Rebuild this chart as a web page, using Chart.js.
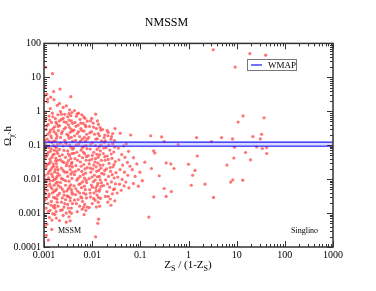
<!DOCTYPE html>
<html>
<head>
<meta charset="utf-8">
<script src="https://cdn.jsdelivr.net/npm/chart.js@4.4.0/dist/chart.umd.min.js"></script>
<style>
html, body { margin: 0; padding: 0; background: #fff; }
</style>
</head>
<body>
<canvas id="chart" width="376" height="291"></canvas>
<script>
// Axis ticks
const xTicks = [0.001, 0.01, 0.1, 1, 10, 100, 1000];
const xTickLabels = ['0.001', '0.01', '0.1', '1', '10', '100', '1000'];
const yTicks = [0.0001, 0.001, 0.01, 0.1, 1, 10, 100];
const yTickLabels = ['0.0001', '0.001', '0.01', '0.1', '1', '10', '100'];

// WMAP band
const wmapX = [0.001, 1000];
const wmapHigh = [0.123, 0.123];
const wmapLow = [0.094, 0.094];

// Scan points [Z_S/(1-Z_S), Omega h^2]
const points = [
    [0.00108,20],[0.0015,12.8],[0.00104,5],[0.00215,4.5],[0.00159,3.8],[0.00114,3.2],[0.00138,2.6],[0.00119,2.3],
    [0.00102,2.8],[0.00118,1.9],[0.00135,1.2],[0.00161,2.2],[0.00189,1.5],[0.00108,0.95],[0.00127,0.72],[0.00149,0.88],[0.00172,0.61],[0.00195,0.79],
    [0.00104,0.52],[0.00122,0.41],[0.00143,0.47],[0.00166,0.35],[0.00184,0.43],[0.00111,0.29],[0.00131,0.24],[0.00155,0.31],[0.00178,0.22],[0.00198,0.27],
    [0.00101,0.18],[0.00116,0.15],[0.00139,0.19],[0.00158,0.13],[0.00182,0.16],[0.00106,0.11],[0.00125,0.085],[0.00146,0.12],[0.00169,0.092],[0.00191,0.105],
    [0.00103,0.072],[0.00121,0.061],[0.00141,0.078],[0.00163,0.055],[0.00186,0.066],[0.00113,0.047],[0.00133,0.039],[0.00152,0.051],[0.00176,0.042],[0.00194,0.036],
    [0.00101,0.031],[0.00119,0.027],[0.00137,0.033],[0.00159,0.024],[0.00181,0.029],[0.00109,0.021],[0.00128,0.017],[0.00147,0.022],[0.00171,0.019],[0.00193,0.015],
    [0.00105,0.013],[0.00124,0.011],[0.00144,0.014],[0.00165,0.0098],[0.00187,0.012],[0.00114,0.0085],[0.00132,0.0071],[0.00154,0.0091],[0.00177,0.0076],[0.00197,0.0064],
    [0.00102,0.0056],[0.00117,0.0047],[0.00138,0.0059],[0.00161,0.0043],[0.00183,0.0051],[0.00107,0.0036],[0.00126,0.0031],[0.00149,0.0039],[0.00172,0.0028],[0.00192,0.0033],
    [0.00103,0.0024],[0.00121,0.0019],[0.00142,0.0022],[0.00167,0.0017],[0.00188,0.0021],[0.00111,0.0014],[0.00134,0.0012],[0.00157,0.0015],[0.00179,0.0011],
    [0.00101,0.00085],[0.00129,0.00074],[0.00146,0.00062],[0.00168,0.0009],[0.00115,0.00047],[0.00145,0.00033],[0.00123,0.00016],[0.00112,0.00022],[0.00104,0.0004],
    [0.00109,0.62],[0.00131,0.55],[0.00153,0.69],[0.00177,0.48],[0.00196,0.36],[0.00114,0.37],[0.00137,0.28],[0.00162,0.25],[0.00187,0.19],[0.00119,0.21],
    [0.00143,0.165],[0.00171,0.135],[0.00104,0.14],[0.00128,0.13],[0.00157,0.098],[0.00181,0.083],[0.00111,0.093],[0.00135,0.066],[0.00163,0.071],[0.00192,0.057],
    [0.00117,0.053],[0.00146,0.044],[0.00174,0.035],[0.00103,0.041],[0.00129,0.029],[0.00155,0.028],[0.00185,0.023],[0.00112,0.025],[0.00139,0.019],[0.00166,0.016],
    [0.00196,0.019],[0.00121,0.0145],[0.00151,0.0118],[0.00178,0.0105],[0.00106,0.0098],[0.00134,0.0089],[0.00162,0.0066],[0.00191,0.0082],[0.00116,0.0063],[0.00147,0.0052],
    [0.00173,0.0046],[0.00102,0.0041],[0.00128,0.0036],[0.00158,0.0029],[0.00186,0.0026],[0.00113,0.0027],[0.00141,0.0017],[0.00169,0.0014],[0.00196,0.0016],[0.00122,0.0011],
    [0.00152,0.00095],[0.00181,0.00071],
    [0.0036,2.7],[0.0021,1.7],[0.0025,1.3],[0.0029,1.45],[0.0034,1.1],[0.0038,0.92],[0.0022,0.98],[0.0027,0.81],[0.0031,0.69],[0.0036,0.74],
    [0.0023,0.58],[0.0026,0.49],[0.0033,0.55],[0.0039,0.44],[0.0021,0.38],[0.0028,0.33],[0.0032,0.4],[0.0037,0.29],[0.0024,0.25],[0.0030,0.21],
    [0.0035,0.24],[0.0022,0.17],[0.0027,0.14],[0.0033,0.16],[0.0039,0.13],[0.0025,0.095],[0.0029,0.11],[0.0036,0.088],[0.0021,0.075],[0.0031,0.068],
    [0.0038,0.057],[0.0024,0.052],[0.0028,0.044],[0.0034,0.049],[0.0022,0.037],[0.0026,0.031],[0.0032,0.035],[0.0037,0.028],[0.0029,0.025],[0.0023,0.021],
    [0.0035,0.019],[0.0039,0.023],[0.0027,0.016],[0.0021,0.013],[0.0031,0.012],[0.0036,0.014],[0.0025,0.0098],[0.0033,0.0087],[0.0038,0.0105],[0.0022,0.0079],
    [0.0028,0.0066],[0.0034,0.0059],[0.0024,0.0051],[0.003,0.0045],[0.0037,0.0049],[0.0021,0.0038],[0.0026,0.0034],[0.0032,0.0031],[0.0039,0.0036],[0.0028,0.0025],
    [0.0023,0.0021],[0.0035,0.0023],[0.0031,0.0018],[0.0026,0.0015],[0.0037,0.0014],[0.0022,0.0012],[0.0029,0.001],[0.0034,0.0011],[0.0025,0.00085],[0.0033,0.00078],
    [0.0035,0.00059],[0.0029,0.00054],[0.0021,0.0006],
    [0.0023,0.82],[0.0033,0.85],[0.0025,0.62],[0.0037,0.52],[0.0029,0.47],[0.0021,0.52],[0.0034,0.33],[0.0026,0.3],[0.0039,0.26],[0.0023,0.22],
    [0.0032,0.19],[0.0037,0.17],[0.0028,0.12],[0.0022,0.115],[0.0034,0.1],[0.0039,0.076],[0.0026,0.07],[0.0032,0.055],[0.0021,0.048],[0.0036,0.04],
    [0.0024,0.033],[0.003,0.029],[0.0038,0.031],[0.0034,0.024],[0.0025,0.018],[0.003,0.016],[0.0039,0.016],[0.0023,0.0105],[0.0028,0.009],[0.0036,0.0068],
    [0.0022,0.0058],[0.0032,0.0052],[0.0026,0.0043],[0.0038,0.0041],[0.003,0.0032],[0.0024,0.0028],[0.0035,0.0028],[0.0027,0.0019],[0.0039,0.0019],[0.0032,0.0014],
    [0.0024,0.00125],[0.0037,0.00098],
    [0.0043,1.05],[0.0052,0.88],[0.0061,0.79],[0.0047,0.71],[0.0071,0.62],[0.0056,0.58],[0.0079,0.51],[0.0044,0.47],[0.0065,0.44],[0.0051,0.39],
    [0.0074,0.35],[0.0058,0.31],[0.0042,0.28],[0.0068,0.26],[0.0049,0.22],[0.0077,0.21],[0.0055,0.18],[0.0062,0.15],[0.0045,0.14],[0.0072,0.13],
    [0.0053,0.108],[0.0066,0.092],[0.0041,0.083],[0.0078,0.079],[0.0059,0.071],[0.0048,0.062],[0.007,0.056],[0.0054,0.049],[0.0063,0.043],[0.0044,0.04],
    [0.0075,0.036],[0.0057,0.032],[0.0067,0.027],[0.0046,0.025],[0.0079,0.022],[0.0052,0.019],[0.0061,0.017],[0.0073,0.015],[0.0043,0.0135],[0.0056,0.012],
    [0.0069,0.0107],[0.0048,0.0093],[0.0064,0.0085],[0.0077,0.0079],[0.0053,0.007],[0.0042,0.0063],[0.006,0.0056],[0.0072,0.0049],[0.005,0.0044],[0.0066,0.0039],
    [0.0045,0.0035],[0.0058,0.003],[0.0076,0.0028],[0.0051,0.0025],[0.0063,0.0022],[0.0047,0.0019],[0.007,0.0018],[0.0055,0.0016],[0.0062,0.0013],[0.0074,0.0012],
    [0.0049,0.0011],[0.0068,0.0009],[0.0079,0.0015],
    [0.0049,0.84],[0.0067,0.68],[0.0058,0.45],[0.0046,0.36],[0.0072,0.39],[0.0061,0.27],[0.0052,0.25],[0.0043,0.19],[0.0069,0.17],[0.0079,0.15],
    [0.0057,0.13],[0.0047,0.1],[0.0074,0.098],[0.0062,0.083],[0.0042,0.058],[0.0066,0.062],[0.0076,0.046],[0.005,0.036],[0.0059,0.024],[0.0071,0.02],
    [0.0045,0.017],[0.0065,0.0135],[0.0051,0.0105],[0.0075,0.0093],[0.0058,0.0075],[0.0069,0.0062],[0.0046,0.0052],[0.0055,0.0039],[0.0074,0.0036],[0.0061,0.0028],
    [0.0043,0.0024],[0.0067,0.0015],
    [0.0118,0.82],[0.0093,0.52],[0.0105,0.45],[0.0135,0.41],[0.0088,0.36],[0.0122,0.31],[0.0151,0.28],[0.0097,0.25],[0.0112,0.21],[0.0142,0.19],
    [0.0085,0.17],[0.0128,0.155],[0.0157,0.135],[0.0101,0.12],[0.0116,0.098],[0.0139,0.088],[0.0091,0.077],[0.0148,0.068],[0.0108,0.062],[0.0125,0.054],
    [0.0083,0.049],[0.0133,0.044],[0.0099,0.039],[0.0155,0.036],[0.0114,0.032],[0.0087,0.028],[0.0145,0.026],[0.0121,0.023],[0.0103,0.02],[0.0137,0.018],
    [0.0094,0.016],[0.0158,0.0148],[0.0111,0.013],[0.0129,0.0117],[0.0086,0.0104],[0.0147,0.0095],[0.0106,0.0084],[0.0132,0.0075],[0.0096,0.0067],[0.0153,0.0061],
    [0.0119,0.0055],[0.0089,0.0049],[0.0139,0.0044],[0.0109,0.0039],[0.0126,0.0034],[0.0092,0.003],[0.0149,0.0027],[0.0115,0.0024],[0.0134,0.0021],[0.01,0.0019],
    [0.0143,0.0016],[0.0122,0.0015],[0.0087,0.00145],[0.0136,0.00066],[0.0118,0.0002],[0.0131,0.0005],
    [0.0098,0.62],[0.0129,0.52],[0.0107,0.34],[0.0146,0.33],[0.0089,0.23],[0.0133,0.22],[0.0119,0.15],[0.0094,0.105],[0.0152,0.1],[0.0126,0.075],
    [0.0101,0.05],[0.0142,0.052],[0.0117,0.04],[0.0088,0.036],[0.0131,0.03],[0.0108,0.026],[0.0152,0.021],[0.0092,0.021],[0.0124,0.017],[0.0141,0.012],
    [0.0099,0.0115],[0.0116,0.0094],[0.0156,0.0078],[0.0127,0.0064],[0.0102,0.0058],[0.0144,0.005],[0.0121,0.0045],[0.0091,0.0039],[0.0135,0.0029],[0.0107,0.0027],
    [0.0165,0.29],[0.0215,0.24],[0.0298,0.31],[0.0213,0.19],[0.0183,0.2],[0.0266,0.22],[0.0178,0.168],[0.0245,0.15],[0.029,0.137],[0.0178,0.122],
    [0.0266,0.11],[0.0195,0.085],[0.0232,0.072],[0.0281,0.063],[0.017,0.057],[0.0205,0.048],[0.0258,0.041],[0.0186,0.036],[0.0302,0.033],[0.0224,0.029],
    [0.0168,0.026],[0.0271,0.023],[0.0198,0.02],[0.0241,0.017],[0.0312,0.0155],[0.0176,0.014],[0.0219,0.012],[0.0286,0.0108],[0.0191,0.0095],[0.0252,0.0083],
    [0.0305,0.0072],[0.0173,0.0065],[0.0231,0.0058],[0.0278,0.0049],[0.0202,0.0043],[0.0263,0.0037],[0.0188,0.0031],[0.0238,0.0026],[0.0295,0.0023],[0.0211,0.0021],
    [0.0246,0.0017],
    [0.0205,0.27],[0.0252,0.18],[0.0188,0.135],[0.0222,0.1],[0.0174,0.082],[0.0292,0.088],[0.0248,0.055],[0.0183,0.046],[0.0215,0.038],[0.0284,0.027],
    [0.0236,0.022],[0.0182,0.018],[0.0261,0.0135],[0.0207,0.0072],[0.0292,0.0052],[0.0215,0.0031],
    [0.0383,0.225],[0.051,0.11],[0.063,0.2],[0.045,0.095],[0.035,0.082],[0.057,0.066],[0.041,0.053],[0.048,0.044],[0.036,0.037],[0.054,0.031],
    [0.043,0.026],[0.061,0.024],[0.038,0.019],[0.047,0.016],[0.055,0.013],[0.034,0.0115],[0.042,0.0098],[0.05,0.0082],[0.037,0.0071],[0.046,0.0063],
    [0.058,0.0055],[0.04,0.0047],[0.033,0.0039],
    [0.072,0.043],[0.085,0.028],[0.068,0.019],[0.098,0.016],[0.078,0.012],[0.11,0.009],[0.072,0.0074],[0.091,0.0062],
    [0.164,0.19],[0.277,0.175],[0.313,0.128],[0.61,0.105],[0.189,0.068],[0.2,0.059],[0.124,0.0316],[0.17,0.0206],[0.247,0.0126],[0.344,0.03],
    [0.43,0.028],[0.5,0.0206],[0.313,0.0053],[0.44,0.0043],[0.344,0.0031],[0.19,0.003],[0.15,0.00076],
    [13.6,0.73],[10.7,0.48],[37,0.64],[1.47,0.168],[3.0,0.128],[4.86,0.168],[8.2,0.153],[9.0,0.087],[21.7,0.18],[33,0.21],
    [31,0.153],[26,0.089],[34,0.08],[42,0.085],[42,0.057],[15.3,0.061],[19.4,0.037],[8.75,0.042],[6.27,0.026],[1.52,0.048],
    [1.0,0.0275],[1.36,0.018],[1.22,0.013],[1.14,0.0066],[2.2,0.0071],[8.3,0.0095],[7.5,0.0082],[13.4,0.0093],[3.3,0.0029],
    [3.26,65],[18.8,50],[40,45],[9.3,20]
];

const SERIF = '"Liberation Serif", "DejaVu Serif", serif';

// Minor tick positions (2..9 per decade)
const minorOf = (decades) => {
    const out = [];
    for (let i = 0; i < decades.length - 1; i++) {
        for (let k = 2; k <= 9; k++) out.push(decades[i] * k);
    }
    return out;
};

// draw text with a subscript part, pieces = [[text, isSub], ...]
const drawPieces = (ctx, pieces, cx, baseline, size) => {
    const subSize = Math.round(size * 0.72);
    let total = 0;
    pieces.forEach(([t, sub]) => {
        ctx.font = (sub ? subSize : size) + 'px ' + SERIF;
        total += ctx.measureText(t).width;
    });
    let px = cx - total / 2;
    ctx.textAlign = 'left';
    ctx.textBaseline = 'alphabetic';
    pieces.forEach(([t, sub]) => {
        ctx.font = (sub ? subSize : size) + 'px ' + SERIF;
        ctx.fillText(t, px, baseline + (sub ? size * 0.3 : 0));
        px += ctx.measureText(t).width;
    });
};

const framePlugin = {
    id: 'frame',
    afterDatasetsDraw(chart) {
        const {ctx, chartArea: a, scales: {x, y}} = chart;
        ctx.save();
        ctx.strokeStyle = '#333';
        ctx.lineWidth = 1;
        ctx.beginPath();
        const tickX = (v, len) => {
            const px = Math.round(x.getPixelForValue(v)) + 0.5;
            ctx.moveTo(px, a.bottom); ctx.lineTo(px, a.bottom - len);
            ctx.moveTo(px, a.top); ctx.lineTo(px, a.top + len);
        };
        const tickY = (v, len) => {
            const py = Math.round(y.getPixelForValue(v)) + 0.5;
            ctx.moveTo(a.left, py); ctx.lineTo(a.left + len, py);
            ctx.moveTo(a.right, py); ctx.lineTo(a.right - len, py);
        };
        xTicks.forEach(v => tickX(v, 6));
        minorOf(xTicks).forEach(v => tickX(v, 3));
        yTicks.forEach(v => tickY(v, 6));
        minorOf(yTicks).forEach(v => tickY(v, 3));
        ctx.stroke();
        ctx.lineWidth = 1.5;
        ctx.strokeRect(a.left, a.top, a.right - a.left, a.bottom - a.top);
        ctx.restore();
    },
    afterDraw(chart) {
        const {ctx} = chart;
        ctx.save();

        // legend box
        ctx.fillStyle = '#fff';
        ctx.fillRect(247, 59, 49, 11);
        ctx.strokeStyle = '#777';
        ctx.lineWidth = 1;
        ctx.strokeRect(247.5, 59.5, 49, 11);
        ctx.strokeStyle = '#7373ff';
        ctx.lineWidth = 2;
        ctx.beginPath();
        ctx.moveTo(251, 65); ctx.lineTo(262, 65);
        ctx.stroke();
        ctx.fillStyle = '#000';
        ctx.font = '9px ' + SERIF;
        ctx.textAlign = 'left';
        ctx.textBaseline = 'middle';
        ctx.fillText('WMAP', 268, 65.5);

        // region labels
        ctx.font = '8px ' + SERIF;
        ctx.fillText('MSSM', 58, 231);
        ctx.fillText('Singlino', 291, 231);

        // x axis title
        drawPieces(ctx, [['Z', false], ['S', true], [' / (1-Z', false], ['S', true], [')', false]], 188, 268, 11);

        // y axis title
        ctx.translate(11, 136);
        ctx.rotate(-Math.PI / 2);
        drawPieces(ctx, [['\u03A9', false], ['\u03C7\u0303', true], [' h', false]], 0, 0, 11);
        ctx.restore();
    }
};

new Chart(document.getElementById('chart'), {
    type: 'scatter',
    data: {
        datasets: [
            {
                type: 'line',
                data: wmapX.map((v, i) => ({x: v, y: wmapHigh[i]})),
                borderColor: '#1a1aff',
                borderWidth: 1.3,
                pointRadius: 0,
                fill: '+1',
                backgroundColor: 'rgba(150, 150, 255, 0.35)'
            },
            {
                type: 'line',
                data: wmapX.map((v, i) => ({x: v, y: wmapLow[i]})),
                borderColor: '#1a1aff',
                borderWidth: 1.3,
                pointRadius: 0,
                fill: false
            },
            {
                data: points.map(p => ({x: p[0], y: p[1]})),
                pointRadius: 1.6,
                pointBorderWidth: 0,
                backgroundColor: 'rgba(255, 70, 70, 0.75)'
            }
        ]
    },
    options: {
        responsive: false,
        animation: false,
        devicePixelRatio: 1,
        layout: { padding: { left: 0, right: 43, top: 0, bottom: 0 } },
        plugins: {
            legend: { display: false },
            tooltip: { enabled: false },
            title: {
                display: true,
                text: 'NMSSM',
                color: '#000',
                font: { family: SERIF, size: 12, weight: 'normal' },
                padding: { top: 16, bottom: 13 }
            }
        },
        scales: {
            x: {
                type: 'logarithmic',
                min: 0.001,
                max: 1000,
                grid: { display: false, drawTicks: false },
                border: { display: false },
                afterBuildTicks: s => { s.ticks = xTicks.map(v => ({value: v})); },
                afterFit: s => { s.height = 44; },
                ticks: {
                    color: '#000',
                    font: { family: SERIF, size: 10 },
                    padding: 2,
                    maxRotation: 0,
                    autoSkip: false,
                    callback: v => xTickLabels[xTicks.indexOf(v)]
                }
            },
            y: {
                type: 'logarithmic',
                min: 0.0001,
                max: 100,
                grid: { display: false, drawTicks: false },
                border: { display: false },
                afterBuildTicks: s => { s.ticks = yTicks.map(v => ({value: v})); },
                afterFit: s => { s.width = 44; },
                ticks: {
                    color: '#000',
                    font: { family: SERIF, size: 10 },
                    padding: 3,
                    autoSkip: false,
                    callback: v => yTickLabels[yTicks.indexOf(v)]
                }
            }
        }
    },
    plugins: [framePlugin]
});
</script>
</body>
</html>
